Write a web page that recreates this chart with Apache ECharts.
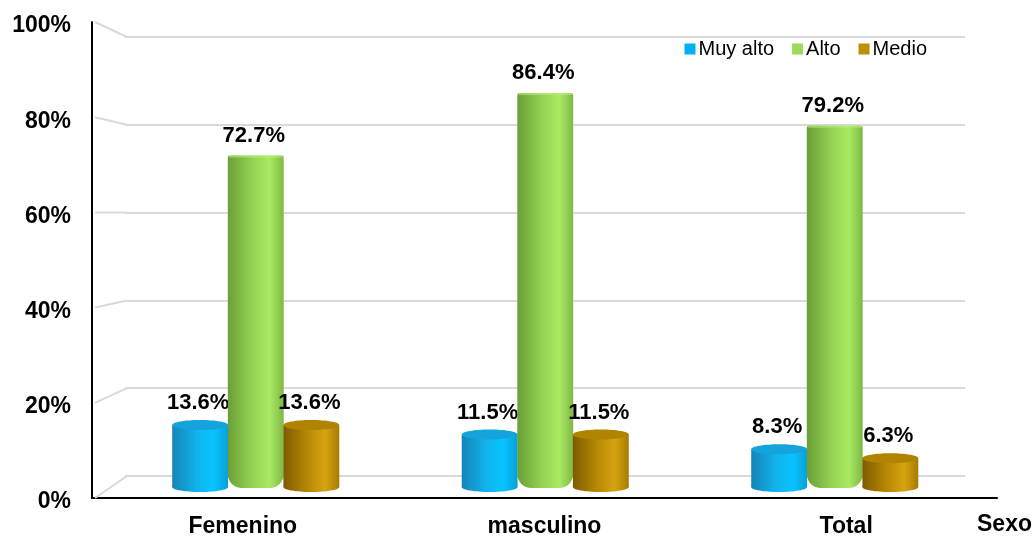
<!DOCTYPE html>
<html>
<head>
<meta charset="utf-8">
<script src="https://cdn.jsdelivr.net/npm/echarts@6/dist/echarts.min.js"></script>
<style>
  html, body { margin: 0; padding: 0; background: #ffffff; }
  #chart { width: 1035px; height: 538px; }
</style>
</head>
<body>
<div id="chart"></div>
<script>
// Nivel por sexo (porcentajes)
const categories = ['Femenino', 'masculino', 'Total'];
const muyAlto = [13.6, 11.5, 8.3];
const alto = [72.7, 86.4, 79.2];
const medio = [13.6, 11.5, 6.3];
const yTicks = [0, 20, 40, 60, 80, 100];
const seriesNames = ['Muy alto', 'Alto', 'Medio'];

const FONT = '"Liberation Sans", Arial, sans-serif';

// Shading for each cylinder body, its top cap and its legend colour
const palettes = [
  { stops: ['#1584b8', '#12b4ec', '#06c4ff', '#0b9fd6'], cap: '#14a3da', legend: '#00b0f0' },
  { stops: ['#6a9f36', '#95d354', '#a9ea64', '#7fb843'], cap: '#9ad85a', legend: '#9ed95a' },
  { stops: ['#7f5b00', '#b88a04', '#d6a411', '#a57c02'], cap: '#b08400', legend: '#bf8f00' }
];

function gradient(p) {
  return new echarts.graphic.LinearGradient(0, 0, 1, 0, [
    { offset: 0, color: p.stops[0] },
    { offset: 0.45, color: p.stops[1] },
    { offset: 0.75, color: p.stops[2] },
    { offset: 1, color: p.stops[3] }
  ]);
}

function cylinder(slot, p, rounded) {
  return function (params, api) {
    const idx = api.value(0);
    const v = api.value(1);
    const top = api.coord([idx, v]);
    const base = api.coord([idx, 0]);
    const band = api.size([1, 0])[0];
    const w = band * 0.193;
    const cx = top[0] + slot * w * 0.995;
    const x = cx - w / 2;
    const ry = 5;
    const children = [];
    if (rounded) {
      children.push({
        type: 'rect',
        shape: { x: x, y: top[1], width: w, height: base[1] - top[1] + 1, r: [2, 2, 14, 14] },
        style: { fill: gradient(p) }
      });
      children.push({
        type: 'rect',
        shape: { x: x + 1, y: top[1], width: w - 2, height: 2 },
        style: { fill: '#b7ef78', opacity: 0.6 }
      });
    } else {
      children.push({
        type: 'ellipse',
        shape: { cx: cx, cy: base[1], rx: w / 2, ry: ry },
        style: { fill: gradient(p) }
      });
      children.push({
        type: 'rect',
        shape: { x: x, y: top[1], width: w, height: base[1] - top[1] },
        style: { fill: gradient(p) }
      });
      children.push({
        type: 'ellipse',
        shape: { cx: cx, cy: top[1], rx: w / 2, ry: ry },
        style: { fill: p.cap }
      });
    }
    children.push({
      type: 'text',
      style: {
        x: cx - 2,
        y: top[1] - (rounded ? 9 : ry + 6),
        text: v + '%',
        textAlign: 'center',
        textVerticalAlign: 'bottom',
        font: 'bold 22px ' + FONT,
        fill: '#000000'
      }
    });
    return { type: 'group', children: children };
  };
}

function makeSeries(name, values, slot, p, rounded) {
  return {
    name: name,
    type: 'custom',
    xAxisIndex: 2,
    yAxisIndex: 2,
    itemStyle: { color: p.legend },
    renderItem: cylinder(slot, p, rounded),
    data: values.map((v, i) => [i, v]),
    z: 5
  };
}

const chart = echarts.init(document.getElementById('chart'), null, { renderer: 'canvas' });

const option = {
  backgroundColor: '#ffffff',
  animation: false,
  legend: {
    right: 103,
    top: 34,
    itemWidth: 11,
    itemHeight: 11,
    itemGap: 18,
    icon: 'rect',
    textStyle: { fontFamily: FONT, fontSize: 20, color: '#000000', padding: [0, 0, 0, -2] },
    data: seriesNames
  },
  grid: [
    { left: 92, right: 38, top: 22, bottom: 40 },   // front frame with labels
    { left: 125, right: 70, top: 37, bottom: 62 },  // back wall
    { left: 111, right: 55.5, top: 31, bottom: 51 } // cylinders
  ],
  xAxis: [
    {
      gridIndex: 0,
      type: 'category',
      data: categories,
      axisLine: { show: true, lineStyle: { color: '#000000', width: 2 } },
      axisTick: { show: false },
      axisLabel: { fontFamily: FONT, fontSize: 23, fontWeight: 'bold', color: '#000000', margin: 17 },
      name: 'Sexo',
      nameLocation: 'end',
      nameGap: -20,
      nameTextStyle: { fontFamily: FONT, fontSize: 23, fontWeight: 'bold', color: '#000000',
        align: 'left', verticalAlign: 'top', padding: [15, 0, 0, 0] }
    },
    { gridIndex: 1, type: 'value', min: 0, max: 1, show: false },
    { gridIndex: 2, type: 'category', data: categories, show: false }
  ],
  yAxis: [
    {
      gridIndex: 0,
      type: 'value',
      min: yTicks[0],
      max: yTicks[yTicks.length - 1],
      interval: yTicks[1] - yTicks[0],
      axisLine: { show: true, lineStyle: { color: '#000000', width: 2 } },
      axisTick: { show: false },
      splitLine: { show: false },
      axisLabel: {
        formatter: '{t|{value}%}',
        margin: 21,
        rich: {
          t: { fontFamily: FONT, fontSize: 23, fontWeight: 'bold', color: '#000000', padding: [8, 0, 0, 0] }
        }
      }
    },
    {
      gridIndex: 1,
      type: 'value',
      min: yTicks[0],
      max: yTicks[yTicks.length - 1],
      interval: yTicks[1] - yTicks[0],
      axisLine: { show: false },
      axisTick: { show: false },
      axisLabel: { show: false },
      splitLine: { show: true, lineStyle: { color: '#d9d9d9', width: 2 } }
    },
    { gridIndex: 2, type: 'value', min: 0, max: 100, show: false }
  ],
  series: [
    makeSeries(seriesNames[0], muyAlto, -1, palettes[0], false),
    makeSeries(seriesNames[1], alto, 0, palettes[1], true),
    makeSeries(seriesNames[2], medio, 1, palettes[2], false)
  ]
};

chart.setOption(option);

// Perspective edges joining the front axis to the back-wall gridlines
const frontRect = chart.getModel().getComponent('grid', 0).coordinateSystem.getRect();
const backRect = chart.getModel().getComponent('grid', 1).coordinateSystem.getRect();
const edges = yTicks.map(function (t) {
  const yf = chart.convertToPixel({ yAxisIndex: 0 }, t);
  const yb = chart.convertToPixel({ yAxisIndex: 1 }, t);
  return {
    type: 'line',
    shape: { x1: frontRect.x + 3, y1: yf, x2: backRect.x + 2, y2: yb },
    style: { stroke: '#d9d9d9', lineWidth: 2 },
    z: 1
  };
});
chart.setOption({ graphic: edges });
</script>
</body>
</html>
